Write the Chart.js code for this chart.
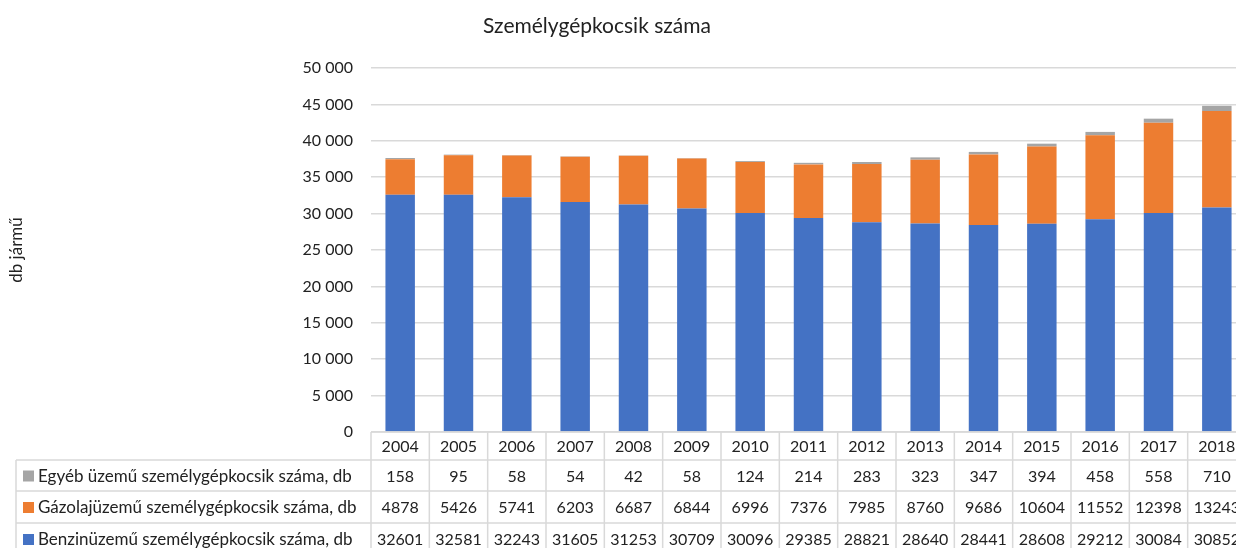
<!DOCTYPE html>
<html>
<head>
<meta charset="utf-8">
<script src="https://cdn.jsdelivr.net/npm/chart.js@4/dist/chart.umd.min.js"></script>
<style>
  html, body { margin: 0; padding: 0; overflow: hidden; background: #fff; width: 1236px; height: 548px; }
  #wrap { width: 1246px; height: 548px; }
</style>
</head>
<body>
<div id="wrap"><canvas id="c" width="1246" height="548"></canvas></div>
<script>
const years = ['2004','2005','2006','2007','2008','2009','2010','2011','2012','2013','2014','2015','2016','2017','2018'];
const benzin = [32601,32581,32243,31605,31253,30709,30096,29385,28821,28640,28441,28608,29212,30084,30852];
const gazolaj = [4878,5426,5741,6203,6687,6844,6996,7376,7985,8760,9686,10604,11552,12398,13243];
const egyeb = [158,95,58,54,42,58,124,214,283,323,347,394,458,558,710];
const seriesNames = ['Egyéb üzemű személygépkocsik száma, db','Gázolajüzemű személygépkocsik száma, db','Benzinüzemű személygépkocsik száma, db'];
const chartTitle = 'Személygépkocsik száma';
const yTitle = 'db jármű';

const FONT = 'Lato, "Open Sans", sans-serif';
const TXT = '#222222';
const GRID = '#d9d9d9';
const BLUE = '#4472C4', ORANGE = '#ED7D31', GRAY = '#A5A5A5';

const tablePlugin = {
  id: 'tablePlugin',
  afterDraw(chart) {
    const ctx = chart.ctx;
    const x = chart.scales.x;
    const area = chart.chartArea;
    const n = years.length;
    const colW = (area.right - area.left) / n;
    const top = area.bottom;
    const rows = [top, top + 28, top + 59, top + 91, top + 123];
    const left = 16;
    ctx.save();
    ctx.fillStyle = TXT;
    ctx.font = '21px ' + FONT;
    ctx.textAlign = 'center';
    ctx.textBaseline = 'middle';
    ctx.fillText(chartTitle, 597, 26);

    ctx.strokeStyle = GRID;
    ctx.lineWidth = 1.5;
    ctx.beginPath();
    ctx.moveTo(area.left, rows[0]); ctx.lineTo(area.right, rows[0]);
    for (let r = 1; r < rows.length; r++) { ctx.moveTo(left, rows[r]); ctx.lineTo(area.right, rows[r]); }
    ctx.moveTo(left, rows[1]); ctx.lineTo(left, rows[4]);
    for (let i = 0; i <= n; i++) {
      const xx = area.left + i * colW;
      ctx.moveTo(xx, rows[0]); ctx.lineTo(xx, rows[4]);
    }
    ctx.stroke();

    ctx.fillStyle = TXT;
    ctx.font = '16px ' + FONT;
    ctx.textAlign = 'center';
    ctx.textBaseline = 'middle';
    const data = [egyeb, gazolaj, benzin];
    const colors = [GRAY, ORANGE, BLUE];
    for (let i = 0; i < n; i++) {
      const cx = x.getPixelForValue(i);
      ctx.fillText(years[i], cx, (rows[0] + rows[1]) / 2 + 1);
      for (let r = 0; r < 3; r++) {
        ctx.fillText(String(data[r][i]), cx, (rows[r + 1] + rows[r + 2]) / 2 + 1);
      }
    }
    ctx.textAlign = 'left';
    ctx.font = '17px ' + FONT;
    for (let r = 0; r < 3; r++) {
      const cy = (rows[r + 1] + rows[r + 2]) / 2;
      ctx.fillStyle = colors[r];
      ctx.fillRect(23, cy - 5, 11, 11);
      ctx.fillStyle = TXT;
      ctx.fillText(seriesNames[r], 38, cy + 1);
    }
    ctx.restore();
  }
};

new Chart(document.getElementById('c'), {
  type: 'bar',
  data: {
    labels: years,
    datasets: [
      { label: seriesNames[2], data: benzin, backgroundColor: BLUE },
      { label: seriesNames[1], data: gazolaj, backgroundColor: ORANGE },
      { label: seriesNames[0], data: egyeb, backgroundColor: GRAY }
    ]
  },
  options: {
    responsive: false,
    animation: false,
    layout: { padding: { left: 0, right: 0, top: 68, bottom: 116 } },
    datasets: { bar: { categoryPercentage: 1, barPercentage: 0.505 } },
    plugins: { legend: { display: false }, title: { display: false }, tooltip: { enabled: false } },
    scales: {
      x: { stacked: true, display: false },
      y: {
        stacked: true,
        min: 0, max: 50000,
        border: { display: false },
        grid: { color: GRID, lineWidth: 1.5, drawTicks: false },
        ticks: {
          stepSize: 5000,
          padding: 18,
          color: TXT,
          font: { family: FONT, size: 16 },
          callback: v => String(v).replace(/\B(?=(\d{3})+(?!\d))/g, ' ')
        },
        title: { display: true, text: yTitle, color: TXT, font: { family: FONT, size: 17 }, padding: { top: 6, bottom: 0 } },
        afterFit(scale) { scale.width = 371; }
      }
    }
  },
  plugins: [tablePlugin]
});
</script>
</body>
</html>
